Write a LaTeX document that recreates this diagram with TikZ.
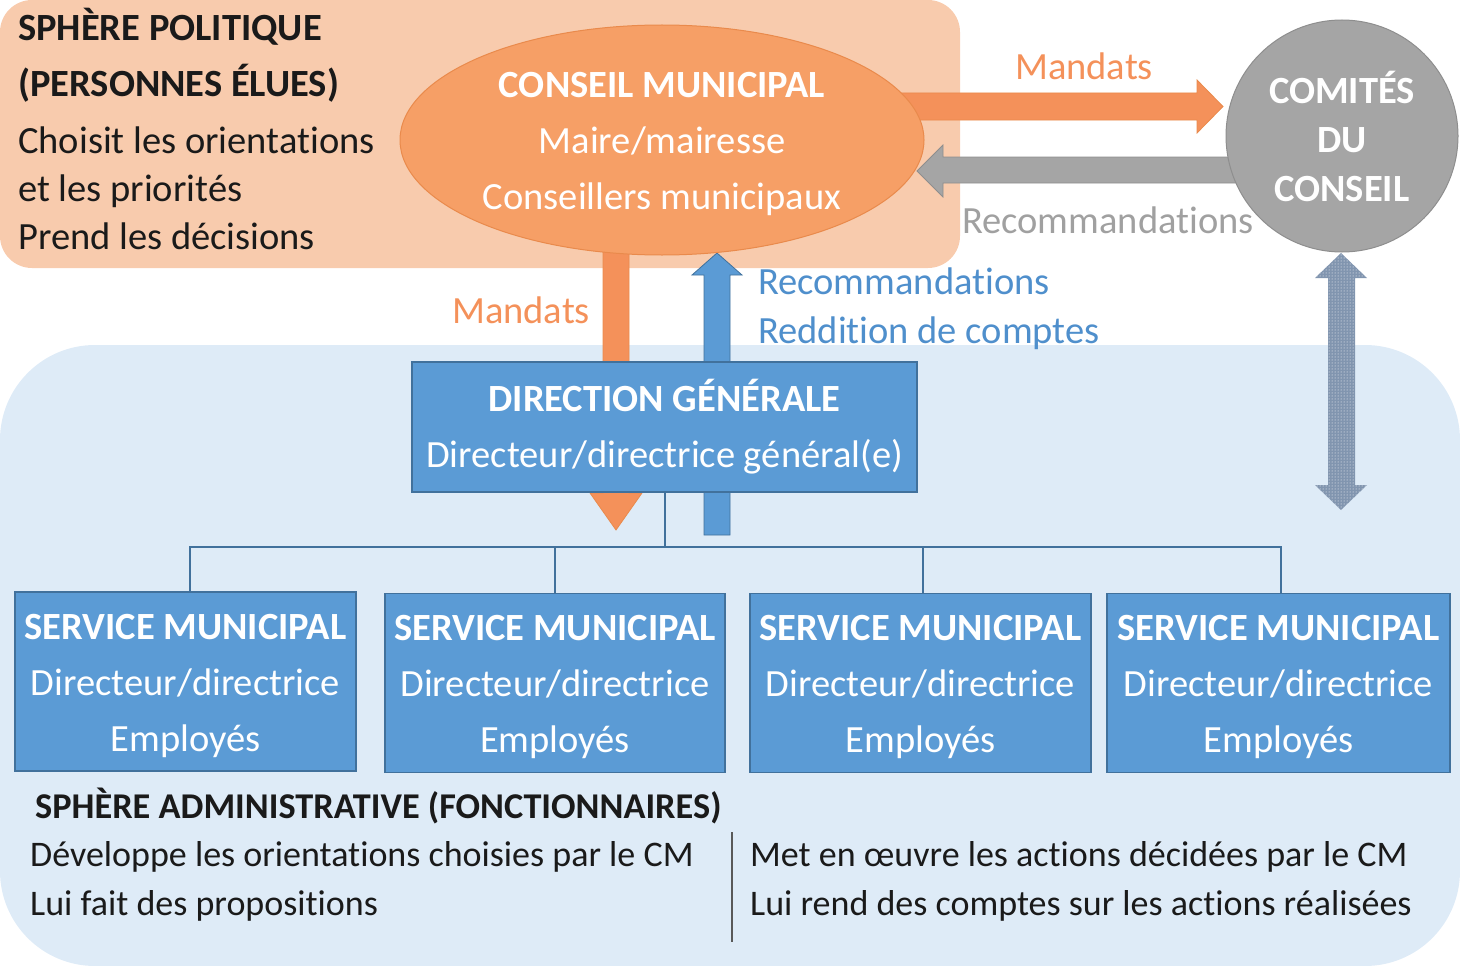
\documentclass[tikz,border=0pt]{standalone}
\usepackage{fontspec}
\setmainfont{Carlito}[Ligatures=NoCommon]
\usetikzlibrary{shapes.geometric,patterns}
\definecolor{peach}{HTML}{F8CBAD}
\definecolor{lblue}{HTML}{DEEBF7}
\definecolor{orfill}{HTML}{F69F66}
\definecolor{ordraw}{HTML}{E98A4C}
\definecolor{orarrow}{HTML}{F4915A}
\definecolor{ortext}{HTML}{F4915A}
\definecolor{gfill}{HTML}{A5A5A5}
\definecolor{gdraw}{HTML}{8E8E8E}
\definecolor{gtext}{HTML}{A0A0A0}
\definecolor{bfill}{HTML}{5B9BD5}
\definecolor{bdraw}{HTML}{41719C}
\definecolor{btext}{HTML}{4F8FCC}
\definecolor{dotfill}{HTML}{8195AF}
\definecolor{dark}{HTML}{1A1A1A}
\begin{document}
\begin{tikzpicture}[x=1pt,y=-1pt,
  txt/.style={font=\fontsize{38.5}{56}\selectfont, inner sep=0pt},
  lbl/.style={font=\fontsize{38.5}{44}\selectfont, inner sep=0pt, anchor=base west},
  blbl/.style={font=\fontsize{36}{44}\selectfont, inner sep=0pt, anchor=base west, text=dark},
  bluebox/.style={draw=bdraw, line width=1.2pt, fill=bfill, inner sep=0pt},
  boxtext/.style={text=white, align=center, font=\fontsize{38.5}{56}\selectfont, inner sep=0pt},
  tree/.style={draw=bdraw, line width=2pt},
  blockor/.style={fill=orarrow, draw=ordraw, line width=0.8pt},
  blockgr/.style={fill=gfill, draw=gdraw, line width=0.8pt},
  blockbl/.style={fill=bfill, draw=bdraw, line width=0.8pt}
]
\useasboundingbox (0,0) rectangle (1460,966);
% backgrounds
\fill[lblue, rounded corners=95pt] (0,345) rectangle (1460,966);
\fill[peach, rounded corners=32pt] (0,0) rectangle (960,268);

% block arrows (behind nodes)
\path[blockor] (603,240) -- (629,240) -- (629,493) -- (642,493) -- (616,530) -- (590,493) -- (603,493) -- cycle;
\path[blockbl] (704,535) -- (730,535) -- (730,275) -- (742,275) -- (717,253) -- (692,275) -- (704,275) -- cycle;
\path[blockor] (880,93) -- (1197,93) -- (1197,80) -- (1223,106.5) -- (1197,133) -- (1197,120) -- (880,120) -- cycle;
\path[blockgr] (1260,157) -- (943,157) -- (943,145) -- (917,171) -- (943,197) -- (943,183) -- (1260,183) -- cycle;
\fill[dotfill] (1328,278) -- (1315,278) -- (1341,253) -- (1367,278) -- (1355,278) -- (1355,485) -- (1367,485) -- (1341,510) -- (1315,485) -- (1328,485) -- cycle;
\fill[pattern=dots, pattern color=white] (1328,278) -- (1315,278) -- (1341,253) -- (1367,278) -- (1355,278) -- (1355,485) -- (1367,485) -- (1341,510) -- (1315,485) -- (1328,485) -- cycle;

% main nodes
\node[ellipse, draw=ordraw, line width=1pt, fill=orfill, minimum width=524, minimum height=230,
      inner sep=0pt] (cm) at (662,140) {};
\node[txt, text=white, align=center] (cmt) at ([yshift=-4pt]cm.center)
  {\textbf{CONSEIL MUNICIPAL}\\Maire/mairesse\\Conseillers municipaux};
\node[circle, draw=gdraw, line width=1pt, fill=gfill, minimum size=232, text=white,
      font=\fontsize{38.5}{49}\selectfont\bfseries, inner sep=0pt, align=center] (cc) at (1342,136)
  {COMITÉS\\DU\\CONSEIL};
\node[bluebox, minimum width=505, minimum height=130] (dg) at (664.5,427) {};
\node[boxtext] (dgt) at (dg.center) {\textbf{DIRECTION GÉNÉRALE}\\Directeur/directrice général(e)};
\node[bluebox, minimum width=341, minimum height=179] (s1) at (185.5,681.5) {};
\node[bluebox, minimum width=340, minimum height=179] (s2) at (555,683) {};
\node[bluebox, minimum width=341, minimum height=179] (s3) at (920.5,683) {};
\node[bluebox, minimum width=343, minimum height=179] (s4) at (1278.5,683) {};
\foreach \s in {s1,s2,s3,s4}{
  \node[boxtext] (\s t) at ([yshift=-4pt]\s.center)
    {\textbf{SERVICE MUNICIPAL}\\Directeur/directrice\\Employés};
}

% tree
\draw[tree] (dg.south) -- ++(0,54) coordinate (j);
\draw[tree] (j) -| ([xshift=4pt]s1.north);
\draw[tree] (j) -| (s2.north);
\draw[tree] (j) -| ([xshift=2pt]s3.north);
\draw[tree] (j) -| ([xshift=2pt]s4.north);

% labels
\node[lbl, text=ortext] (lm1) at (1015,80) {Mandats};
\node[lbl, text=gtext] (lr1) at (962,233) {Recommandations};
\node[lbl, text=ortext] (lm2) at (452,323) {Mandats};
\node[lbl, text=btext] (lr2) at (758,294) {Recommandations};
\node[lbl, text=btext] (lr3) at (758,343) {Reddition de comptes};

% political sphere text
\node[lbl, text=dark, font=\fontsize{38.5}{44}\selectfont\bfseries] (p1) at (18,41) {SPHÈRE POLITIQUE};
\node[lbl, text=dark, font=\fontsize{38.5}{44}\selectfont\bfseries] (p2) at (18,96) {(PERSONNES ÉLUES)};
\node[lbl, text=dark] (p3) at (18,153) {Choisit les orientations};
\node[lbl, text=dark] (p4) at (18,201) {et les priorités};
\node[lbl, text=dark] (p5) at (18,249) {Prend les décisions};

% administrative sphere text
\node[blbl, font=\fontsize{36.3}{44}\selectfont\bfseries] (a1) at (35,818) {SPHÈRE ADMINISTRATIVE (FONCTIONNAIRES)};
\node[blbl] (a2) at (30,866) {Développe les orientations choisies par le CM};
\node[blbl] (a3) at (30,915) {Lui fait des propositions};
\node[blbl] (a4) at (750,866) {Met en œuvre les actions décidées par le CM};
\node[blbl] (a5) at (750,915) {Lui rend des comptes sur les actions réalisées};
\coordinate (sepT) at (732,832);
\coordinate (sepB) at (732,942);
\draw[draw=black!65, line width=1.5pt] (sepT) -- (sepB);
\end{tikzpicture}
\end{document}
